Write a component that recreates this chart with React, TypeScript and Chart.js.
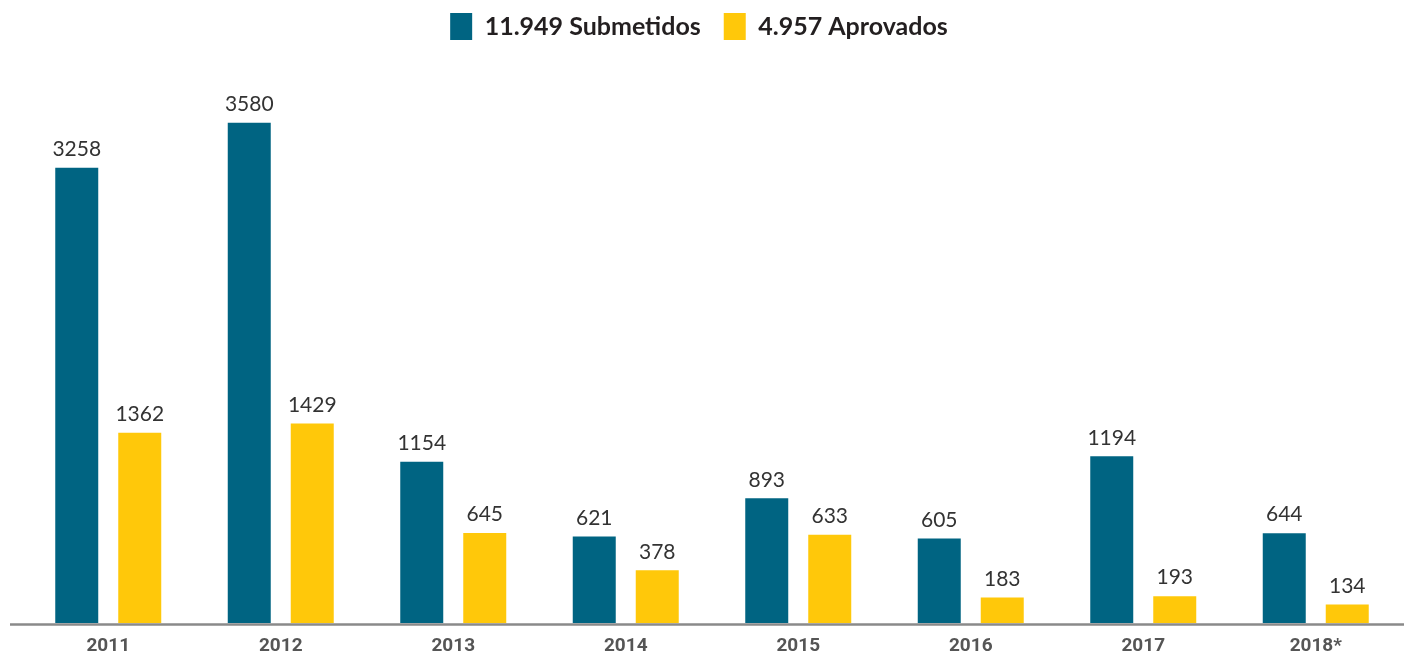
import React, { useEffect, useRef } from "react";
import { Chart, registerables } from "chart.js";

Chart.register(...registerables);

const years = ["2011", "2012", "2013", "2014", "2015", "2016", "2017", "2018*"];
const submetidos = [3258, 3580, 1154, 621, 893, 605, 1194, 644];
const aprovados = [1362, 1429, 645, 378, 633, 183, 193, 134];

const fmt = (n: number) => String(n).replace(/\B(?=(\d{3})+(?!\d))/g, ".");
const sum = (a: number[]) => a.reduce((s, v) => s + v, 0);

const valueLabels = {
  id: "valueLabels",
  afterDatasetsDraw(chart: any) {
    const ctx = chart.ctx;
    ctx.save();
    ctx.font = "21px Lato";
    ctx.fillStyle = "#333333";
    ctx.textAlign = "center";
    ctx.textBaseline = "bottom";
    chart.data.datasets.forEach((ds: any, i: number) => {
      const meta = chart.getDatasetMeta(i);
      meta.data.forEach((bar: any, j: number) => {
        ctx.fillText(String(ds.data[j]), bar.x, bar.y - 8);
      });
    });
    ctx.restore();
  },
};

const axisLine = {
  id: "axisLine",
  afterDatasetsDraw(chart: any) {
    const ctx = chart.ctx;
    const y = chart.chartArea.bottom + 1.2;
    ctx.save();
    ctx.strokeStyle = "#8a8a8a";
    ctx.lineWidth = 2.5;
    ctx.beginPath();
    ctx.moveTo(10, y);
    ctx.lineTo(chart.width, y);
    ctx.stroke();
    ctx.restore();
  },
};

const legendShift = {
  id: "legendShift",
  afterLayout(chart: any) {
    if (chart.legend) {
      chart.legend.left -= 13;
      chart.legend.right -= 13;
    }
  },
};

export default function App() {
  const ref = useRef<HTMLCanvasElement>(null);
  useEffect(() => {
    if (!ref.current) return;
    const chart = new Chart(ref.current, {
      type: "bar",
      data: {
        labels: years,
        datasets: [
          {
            label: `${fmt(sum(submetidos))} Submetidos`,
            data: submetidos,
            backgroundColor: "#006482",
            categoryPercentage: 0.7304,
            barPercentage: 0.6825,
          },
          {
            label: `${fmt(sum(aprovados))} Aprovados`,
            data: aprovados,
            backgroundColor: "#FFC80A",
            categoryPercentage: 0.7304,
            barPercentage: 0.6825,
          },
        ],
      },
      options: {
        animation: false,
        responsive: false,
        devicePixelRatio: 1,
        layout: { padding: { left: 22, right: 2, top: -10, bottom: -13 } },
        plugins: {
          legend: {
            display: true,
            position: "top",
            labels: {
              boxWidth: 22,
              boxHeight: 27,
              padding: 23,
              color: "#231f20",
              font: { family: "Lato", size: 25, weight: "bold" },
            },
          },
          tooltip: { enabled: false },
        },
        scales: {
          x: {
            grid: { display: false, drawTicks: false },
            border: { display: false },
            ticks: {
              color: "#555555",
              padding: 12,
              font: { family: "Roboto", size: 19, weight: "bold" },
            },
          },
          y: {
            display: false,
            min: 0,
            max: 4100,
          },
        },
      },
      plugins: [valueLabels, axisLine, legendShift],
    });
    return () => chart.destroy();
  }, []);
  return (
    <div style={{ position: "fixed", left: 0, top: 0, width: 1404, height: 657, background: "#fff" }}>
      <canvas ref={ref} width={1404} height={657} style={{ width: 1404, height: 657 }} />
    </div>
  );
}
